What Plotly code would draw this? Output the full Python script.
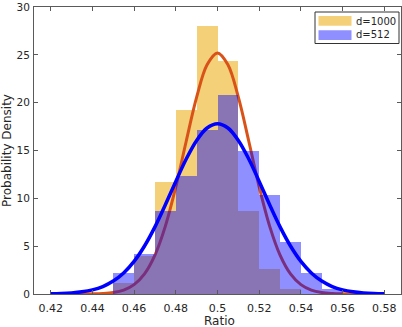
import plotly.graph_objects as go

# ---- data ----
bin_centers = [0.445, 0.455, 0.465, 0.475, 0.485, 0.495, 0.505, 0.515, 0.525, 0.535, 0.545, 0.555]
density_d1000 = [0.0, 1.1, 4.0, 11.7, 19.2, 28.0, 24.4, 8.7, 2.6, 0.5, 0.0, 0.0]
density_d512 = [0.0, 2.2, 4.2, 8.7, 12.3, 17.1, 20.8, 14.9, 10.3, 5.45, 2.2, 0.5]

curve_x = [0.420, 0.425, 0.430, 0.435, 0.440, 0.445, 0.450, 0.455, 0.460, 0.465, 0.470,
           0.475, 0.480, 0.485, 0.490, 0.495, 0.500, 0.505, 0.510, 0.515, 0.520, 0.525,
           0.530, 0.535, 0.540, 0.545, 0.550, 0.555, 0.560, 0.565, 0.570, 0.575, 0.580]
fit_d1000 = [0.0001, 0.0003, 0.0014, 0.005, 0.017, 0.054, 0.158, 0.41, 0.98, 2.10, 4.06,
             7.09, 11.19, 15.97, 20.57, 23.96, 25.2, 23.96, 20.57, 15.97, 11.19, 7.09,
             4.06, 2.10, 0.98, 0.41, 0.158, 0.054, 0.017, 0.005, 0.0014, 0.0003, 0.0001]
fit_d512 = [0.024, 0.053, 0.113, 0.226, 0.43, 0.78, 1.35, 2.20, 3.41, 5.02, 7.02,
            9.33, 11.77, 14.11, 16.05, 17.35, 17.8, 17.35, 16.05, 14.11, 11.77, 9.33,
            7.02, 5.02, 3.41, 2.20, 1.35, 0.78, 0.43, 0.226, 0.113, 0.053, 0.024]

series_names = ["d=1000", "d=512"]
x_ticks = [0.42, 0.44, 0.46, 0.48, 0.50, 0.52, 0.54, 0.56, 0.58]
x_tick_labels = ["0.42", "0.44", "0.46", "0.48", "0.5", "0.52", "0.54", "0.56", "0.58"]
y_ticks = [0, 5, 10, 15, 20, 25, 30]
x_title = "Ratio"
y_title = "Probability Density"

# ---- styles ----
ORANGE_FILL = "rgba(237,177,32,0.6)"
BLUE_FILL = "rgba(0,0,255,0.44)"
ORANGE_LINE = "#D95319"
BLUE_LINE = "#0000FF"
AX = "#5a5a5a"
TXT = "#262626"
FONT = "DejaVu Sans"
W, H = 402, 327
ML, MR, MT, MB = 34, 1, 7, 33

fig = go.Figure()
fig.add_trace(go.Bar(x=bin_centers, y=density_d1000, width=0.01, marker_color=ORANGE_FILL,
                     marker_line_width=0, name=series_names[0], showlegend=False,
                     xaxis="x", yaxis="y"))
fig.add_trace(go.Scatter(x=curve_x, y=fit_d1000, mode="lines", line=dict(color=ORANGE_LINE, width=3, shape="spline"),
                         showlegend=False, xaxis="x", yaxis="y"))
fig.add_trace(go.Bar(x=bin_centers, y=density_d512, width=0.01, marker_color=BLUE_FILL,
                     marker_line_width=0, name=series_names[1], showlegend=False,
                     xaxis="x2", yaxis="y2"))
fig.add_trace(go.Scatter(x=curve_x, y=fit_d512, mode="lines", line=dict(color=BLUE_LINE, width=3.5, shape="spline"),
                         showlegend=False, xaxis="x2", yaxis="y2"))

xr = [0.412, 0.588]
yr = [0, 30]
axis_common = dict(showline=True, mirror="ticks", linecolor=AX, linewidth=1, ticks="inside",
                   ticklen=4, tickcolor=AX, showgrid=False, zeroline=False,
                   ticklabeloverflow="allow", automargin=False)
fig.update_layout(
    width=W, height=H,
    margin=dict(l=ML, r=MR, t=MT, b=MB),
    paper_bgcolor="white", plot_bgcolor="white",
    barmode="overlay", bargap=0,
    showlegend=False,
    xaxis=dict(range=xr, tickvals=x_ticks, ticktext=x_tick_labels, ticklabelstandoff=4,
               tickfont=dict(family=FONT, size=11, color=TXT), **axis_common),
    yaxis=dict(range=yr, tickvals=y_ticks, ticklabelstandoff=1,
               tickfont=dict(family=FONT, size=10.5, color=TXT),
               title=dict(text=y_title, font=dict(family=FONT, size=12, color=TXT), standoff=4),
               **axis_common),
    xaxis2=dict(range=xr, overlaying="x", visible=False),
    yaxis2=dict(range=yr, overlaying="y", visible=False),
)

# ---- pixel helpers for paper coordinates ----
def px_x(p):
    return (p - ML) / (W - ML - MR)

def px_y(p):
    return 1 - (p - MT) / (H - MT - MB)

# x-axis title
fig.add_annotation(text=x_title, xref="paper", yref="paper", x=px_x(219), y=px_y(320.5),
                   xanchor="center", yanchor="middle", showarrow=False,
                   font=dict(family=FONT, size=12, color=TXT))

# ---- legend (drawn box) ----
fig.add_shape(type="rect", xref="paper", yref="paper", x0=px_x(315), x1=px_x(399), y0=px_y(43.5), y1=px_y(12),
              line=dict(color="#333333", width=1), fillcolor="white")
fig.add_shape(type="rect", xref="paper", yref="paper", x0=px_x(318.5), x1=px_x(351.5), y0=px_y(25.7), y1=px_y(16),
              line=dict(width=0), fillcolor=ORANGE_FILL)
fig.add_shape(type="rect", xref="paper", yref="paper", x0=px_x(318.5), x1=px_x(351.5), y0=px_y(40), y1=px_y(30.3),
              line=dict(width=0), fillcolor=BLUE_FILL)
for name, yc in zip(series_names, [21, 35]):
    fig.add_annotation(text=name, xref="paper", yref="paper", x=px_x(354), y=px_y(yc),
                       xanchor="left", yanchor="middle", showarrow=False,
                       font=dict(family=FONT, size=10, color=TXT))

fig.write_html("out.html", config={"displayModeBar": False},
               post_script="document.body.style.margin='0';document.body.style.overflow='hidden';")
